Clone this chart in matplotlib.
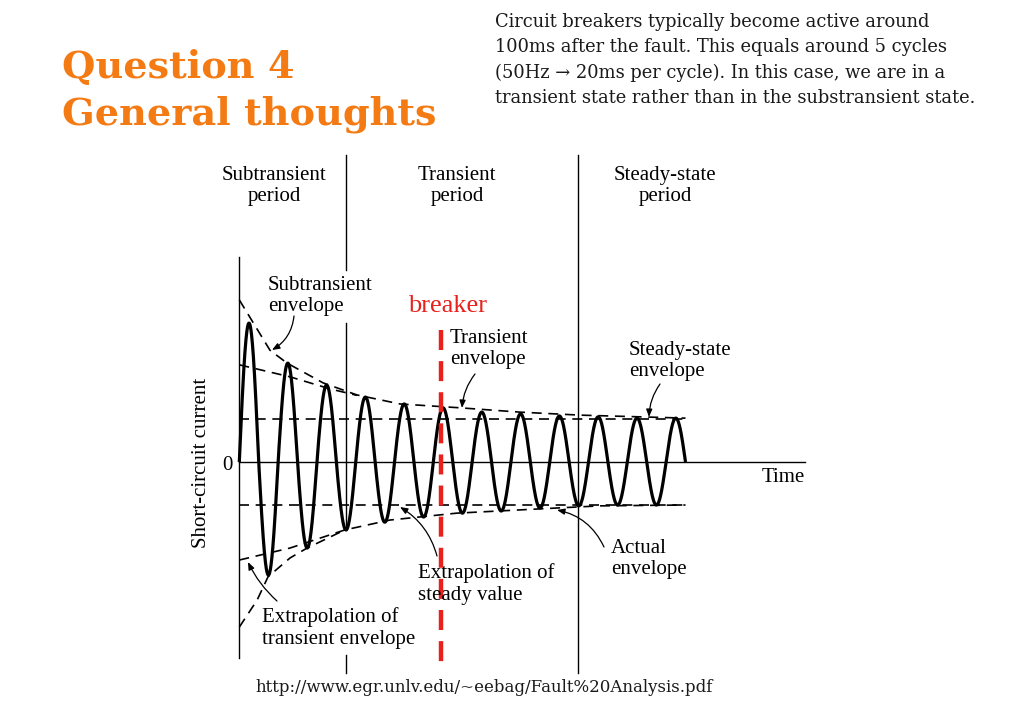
import numpy as np
import matplotlib
matplotlib.use("Agg")
from matplotlib import pyplot as plt

# peak magnitude of each half-cycle (current in per-unit of the steady value)
pos_peaks = [3.23, 2.30, 1.79, 1.51, 1.35, 1.26, 1.16, 1.12, 1.07, 1.05, 1.02, 1.02]
neg_peaks = [2.63, 2.00, 1.58, 1.40, 1.28, 1.19, 1.14, 1.07, 1.02, 1.00, 1.00]
n_cycles = 11.5

# envelope curves, time in cycles / current in per-unit
sub_up_t = [0.0, 0.79, 1.23, 2.16, 3.03, 4.14, 5.69, 7.23, 8.78, 11.5]
sub_up_i = [3.77, 2.60, 2.30, 1.84, 1.56, 1.35, 1.26, 1.16, 1.09, 1.02]
tr_up_t = [0.0, 1.31, 2.34, 3.03]
tr_up_i = [2.26, 1.98, 1.70, 1.55]
tr_lo_t = [0.0, 1.31, 2.72, 3.88, 5.60, 8.18, 9.30, 11.5]
tr_lo_i = [-2.28, -2.00, -1.58, -1.35, -1.19, -1.07, -1.02, -1.00]
sub_lo_t = [0.0, 0.46, 0.74, 1.31, 1.75, 2.72]
sub_lo_i = [-3.84, -3.21, -2.67, -2.23, -2.00, -1.58]
steady = 1.0

period_bounds = [2.75, 8.72]
breaker_t = 5.2

W, H = 1024, 709
x0_px, cyc_px = 239.3, 38.8
y0_px, unit_px = 462.0, 43.0

fig = plt.figure(figsize=(W / 100, H / 100), dpi=100)
ax = fig.add_axes([0, 0, 1, 1])
ax.set_xlim(-x0_px / cyc_px, (W - x0_px) / cyc_px)
ax.set_ylim(-(H - y0_px) / unit_px, y0_px / unit_px)
ax.axis("off")


def P(x, y):
    return (x / W, 1 - y / H)


def T(x):
    return (x - x0_px) / cyc_px


def I(y):
    return (y0_px - y) / unit_px


# waveform
amps = []
for k in range(len(pos_peaks) + len(neg_peaks)):
    amps.append(pos_peaks[k // 2] if k % 2 == 0 else neg_peaks[k // 2])
t = np.linspace(0, n_cycles, 2000)
half = np.minimum((t * 2).astype(int), len(amps) - 1)
wave = np.array(amps)[half] * np.sin(2 * np.pi * t)
ax.plot(t, wave, color="black", lw=2.3, solid_capstyle="butt")

dash = dict(color="black", lw=1.2, dashes=(6, 4))
ax.plot(sub_up_t, sub_up_i, **dash)
ax.plot(tr_up_t, tr_up_i, **dash)
ax.plot(tr_lo_t, tr_lo_i, **dash)
ax.plot(sub_lo_t, sub_lo_i, **dash)
ax.plot([0, n_cycles], [steady, steady], **dash)
ax.plot([0, n_cycles], [-steady, -steady], **dash)

# axes and period separators
thin = dict(color="black", lw=1.0)
ax.plot([0, T(805)], [0, 0], **thin)
ax.plot([0, 0], [I(257), I(658)], **thin)
ax.plot([period_bounds[0]] * 2, [I(155), I(270)], **thin)
ax.plot([period_bounds[0]] * 2, [I(323), I(530)], **thin)
ax.plot([period_bounds[0]] * 2, [I(655), I(673)], **thin)
ax.plot([period_bounds[1]] * 2, [I(155), I(673)], **thin)

# breaker line
ax.plot([breaker_t] * 2, [I(330), I(672)], color="#e8211c", lw=3.2, dashes=(4.5, 2.5))

serif = "Liberation Serif"
fs = 15
lbl = dict(fontsize=fs, family=serif, color="black", linespacing=1.15)
fig.text(*P(274, 186), "Subtransient\nperiod", ha="center", va="center", **lbl)
fig.text(*P(457, 186), "Transient\nperiod", ha="center", va="center", **lbl)
fig.text(*P(665, 186), "Steady-state\nperiod", ha="center", va="center", **lbl)
fig.text(*P(268, 296), "Subtransient\nenvelope", ha="left", va="center", **lbl)
fig.text(*P(450, 349), "Transient\nenvelope", ha="left", va="center", **lbl)
fig.text(*P(629, 361), "Steady-state\nenvelope", ha="left", va="center", **lbl)
fig.text(*P(611, 559), "Actual\nenvelope", ha="left", va="center", **lbl)
fig.text(*P(418, 584), "Extrapolation of\nsteady value", ha="left", va="center", **lbl)
fig.text(*P(262, 628), "Extrapolation of\ntransient envelope", ha="left", va="center", **lbl)
fig.text(*P(762, 477), "Time", ha="left", va="center", **lbl)
fig.text(*P(227, 466), "0", ha="center", va="center", **lbl)
fig.text(*P(202, 463), "Short-circuit current", ha="center", va="center", rotation=90, **lbl)
fig.text(*P(408, 306), "breaker", ha="left", va="center", fontsize=19, family=serif, color="#e8211c")

arrows = [
    ((T(272), I(350)), (T(294), I(316)), -0.25),
    ((T(462), I(408)), (T(475), I(374)), 0.15),
    ((T(649), I(417)), (T(660), I(384)), 0.15),
    ((T(557), I(510)), (T(604), I(547)), 0.25),
    ((T(400), I(507)), (T(437), I(556)), 0.2),
    ((T(248), I(562)), (T(277), I(601)), -0.1),
]
for xy, xyt, rad in arrows:
    ax.annotate("", xy=xy, xytext=xyt,
                arrowprops=dict(arrowstyle="-|>,head_length=0.45,head_width=0.18", color="black",
                                lw=0.9, connectionstyle="arc3,rad=%s" % rad, shrinkA=0, shrinkB=0))

# slide texts
fig.text(*P(62, 91), "Question 4\nGeneral thoughts", ha="left", va="center", fontsize=27.5,
         family="DejaVu Serif", weight="bold", color="#f47b14", linespacing=1.32)
para = ("Circuit breakers typically become active around\n"
        "100ms after the fault. This equals around 5 cycles\n"
        "(50Hz \u2192 20ms per cycle). In this case, we are in a\n"
        "transient state rather than in the substransient state.")
fig.text(*P(495, 60), para, ha="left", va="center", fontsize=12.9, family="DejaVu Serif",
         color="#1a1a1a", linespacing=1.5)
fig.text(*P(484, 688), "http://www.egr.unlv.edu/~eebag/Fault%20Analysis.pdf", ha="center", va="center",
         fontsize=12.0, family="DejaVu Serif", color="#1a1a1a")

fig.savefig("out.png", dpi=100)
